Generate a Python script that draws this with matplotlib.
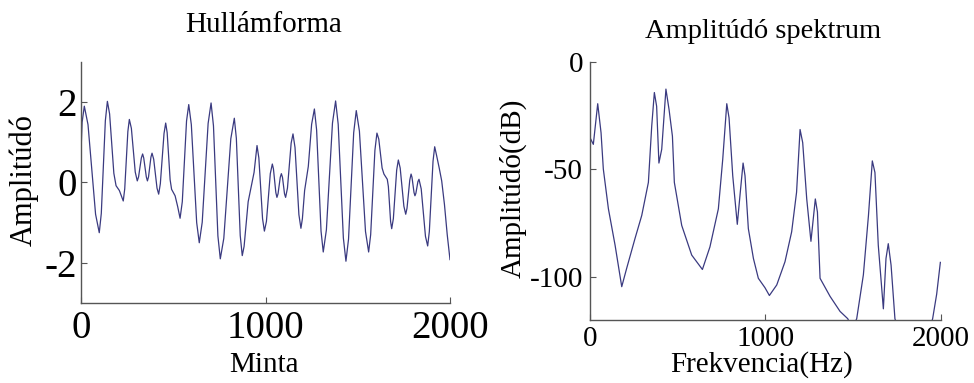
import matplotlib
matplotlib.use("Agg")
import matplotlib.pyplot as plt

plt.rcParams['font.family'] = ['Liberation Serif', 'DejaVu Serif']
plt.rcParams['axes.unicode_minus'] = False

# Waveform (sample index, amplitude)
wave_x = [0, 6, 18, 38, 79, 99, 110, 132, 143, 155, 178, 190, 208, 229, 237, 254, 262,
          273, 294, 305, 312, 327, 334, 340, 354, 360, 366, 379, 385, 394, 412, 421, 430,
          450, 459, 467, 483, 491, 510, 524, 537, 549, 572, 584, 598, 627, 641, 657, 689,
          705, 718, 742, 755, 774, 812, 831, 842, 863, 874, 884, 906, 916, 938, 954, 964,
          984, 994, 1005, 1026, 1037, 1043, 1056, 1062, 1068, 1080, 1086, 1092, 1103,
          1109, 1119, 1139, 1149, 1160, 1181, 1192, 1200, 1212, 1222, 1232, 1250, 1265,
          1277, 1301, 1313, 1330, 1363, 1380, 1394, 1422, 1436, 1450, 1478, 1492, 1509,
          1542, 1559, 1570, 1593, 1604, 1614, 1632, 1642, 1660, 1666, 1678, 1684, 1693,
          1711, 1720, 1730, 1750, 1760, 1767, 1782, 1789, 1794, 1805, 1810, 1815, 1826,
          1832, 1844, 1867, 1879, 1888, 1908, 1917, 1927, 1942, 1955, 1970, 1985, 2000]
wave_y = [0.75, 1.5, 1.9, 1.44, -0.79, -1.25, -0.77, 1.54, 2.02, 1.71, 0.23, -0.08, -0.2,
          -0.46, -0.16, 1.27, 1.57, 1.35, 0.26, 0.04, 0.14, 0.61, 0.71, 0.61, 0.14, 0.04,
          0.14, 0.63, 0.73, 0.58, -0.14, -0.29, -0.03, 1.22, 1.48, 1.24, 0.07, -0.17, -0.33,
          -0.6, -0.89, -0.48, 1.53, 1.94, 1.44, -1.0, -1.5, -0.99, 1.47, 1.98, 1.41, -1.33,
          -1.9, -1.39, 1.09, 1.6, 1.1, -1.32, -1.82, -1.59, -0.48, -0.25, 0.25, 0.92, 0.61,
          -0.9, -1.21, -0.97, 0.22, 0.46, 0.34, -0.25, -0.37, -0.28, 0.13, 0.22, 0.13, -0.28,
          -0.37, -0.14, 0.98, 1.21, 0.87, -0.8, -1.14, -0.9, -0.2, 0.1, 0.4, 1.45, 1.83,
          1.31, -1.21, -1.73, -1.18, 1.48, 2.03, 1.45, -1.38, -1.96, -1.41, 1.24, 1.79, 1.28,
          -1.22, -1.73, -1.3, 0.8, 1.23, 1.08, 0.36, 0.21, 0.08, -0.1, -0.97, -1.15, -0.9,
          0.31, 0.56, 0.36, -0.59, -0.79, -0.64, 0.06, 0.21, 0.13, -0.25, -0.33, -0.27, 0.02,
          0.08, -0.16, -1.34, -1.58, -1.22, 0.53, 0.89, 0.68, 0.35, 0.04, -0.55, -1.3, -1.92]

# Amplitude spectrum (Hz, dB)
spec_f = [0, 19, 44, 63, 76, 105, 143, 181, 209, 257, 295, 333, 352, 367, 380, 393, 409,
          433, 451, 470, 481, 523, 580, 641, 684, 732, 757, 780, 793, 814, 840, 857, 873,
          884, 903, 932, 960, 998, 1023, 1065, 1112, 1150, 1178, 1198, 1213, 1236, 1260,
          1285, 1297, 1312, 1369, 1426, 1470, 1495, 1521, 1559, 1588, 1610, 1625, 1644,
          1673, 1688, 1701, 1717, 1739, 1800, 1880, 1954, 1977, 1998]
spec_db = [-35.2, -38.3, -19.4, -32.9, -49.8, -68.3, -85.2, -104.5, -96, -82, -71.4, -56,
           -29.8, -14.2, -20.6, -47, -40.6, -12.6, -22.2, -34.5, -56, -76, -89.8, -96.5,
           -86, -68.3, -45.2, -19.4, -26, -52.9, -75.5, -60.6, -47, -52.9, -77.5, -91.4,
           -100.6, -105, -108.6, -103.7, -92.9, -79, -60.6, -31.4, -37.5, -63.7, -83.4,
           -63.7, -69.8, -100.6, -109, -116, -119.4, -124, -119.4, -99, -71.4, -46, -51.4,
           -85.2, -114.8, -91.4, -84.5, -94.5, -119.4, -135, -140, -119.4, -108, -93.2]

line_color = '#3a3a80'
spine_color = '#555555'

fig = plt.figure(figsize=(9.74, 3.83), dpi=100)

ax1 = fig.add_axes([81/974, 1-303/383, 369/974, 241/383])
ax2 = fig.add_axes([590/974, 1-320/383, 350.7/974, 258/383])

ax1.plot(wave_x, wave_y, color=line_color, lw=0.9)
ax1.set_xlim(0, 2000)
ax1.set_ylim(-3, 3)
ax1.set_xticks([0, 1000, 2000])
ax1.set_yticks([-2, 0, 2])
ax1.tick_params(axis='x', direction='in', length=4, labelsize=28, pad=5, color=spine_color)
ax1.tick_params(axis='y', direction='in', length=4, labelsize=28, pad=3, color=spine_color)

ax2.plot(spec_f, spec_db, color=line_color, lw=0.9)
ax2.set_xlim(0, 2000)
ax2.set_ylim(-120, 0)
ax2.set_xticks([0, 1000, 2000])
ax2.set_yticks([-100, -50, 0])
ax2.tick_params(axis='x', direction='in', length=4, labelsize=21, pad=4, color=spine_color)
ax2.tick_params(axis='y', direction='in', length=4, labelsize=21, pad=5, color=spine_color)

for ax in (ax1, ax2):
    for s in ('top', 'right'):
        ax.spines[s].set_visible(False)
    for s in ('left', 'bottom'):
        ax.spines[s].set_color(spine_color)
        ax.spines[s].set_linewidth(1.0)

fig.text(264/974, 1-25/383, 'Hullámforma', ha='center', va='center', fontsize=21)
fig.text(264/974, 1-365/383, 'Minta', ha='center', va='center', fontsize=21)
fig.text(24/974, 1-180/383, 'Amplitúdó', ha='center', va='center', fontsize=22, rotation=90)

fig.text(763/974, 1-32/383, 'Amplitúdó spektrum', ha='center', va='center', fontsize=20.5)
fig.text(762/974, 1-365/383, 'Frekvencia(Hz)', ha='center', va='center', fontsize=21)
fig.text(513/974, 1-188/383, 'Amplitúdó(dB)', ha='center', va='center', fontsize=21, rotation=90)

fig.savefig('out.png', dpi=100)
